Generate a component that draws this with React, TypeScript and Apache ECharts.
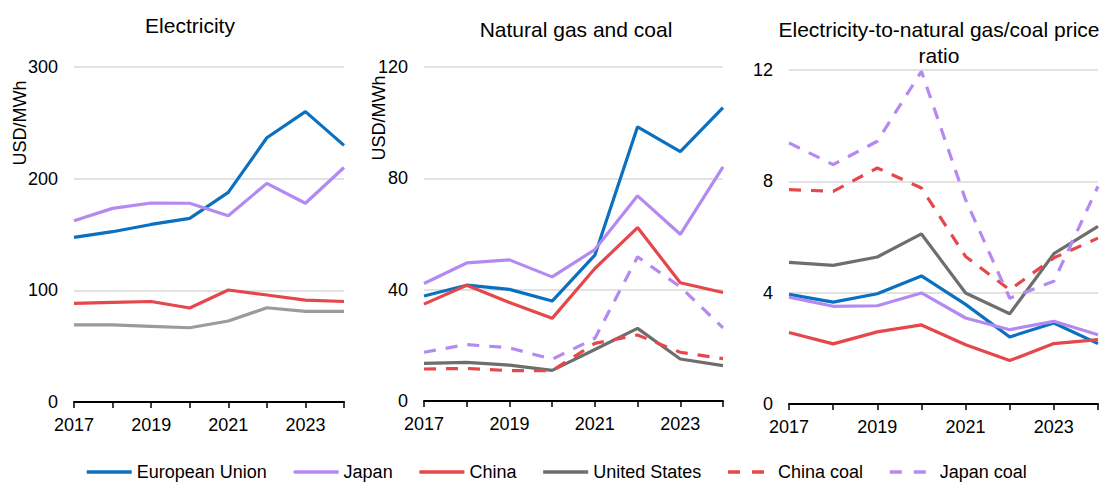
import React, { useEffect, useRef } from 'react';
import * as echarts from 'echarts';

const years = ['2017', '2018', '2019', '2020', '2021', '2022', '2023', '2024'];

const elecEU = [147.5, 152.5, 159, 164.5, 187.7, 236.6, 260, 229.8];
const elecJapan = [162.3, 173.4, 178.2, 178, 166.8, 195.8, 178, 210];
const elecChina = [88.4, 89.2, 90, 84.2, 100.3, 95.8, 91.3, 90];
const elecUS = [69, 69, 67.8, 66.5, 72.5, 84.4, 81.2, 81.2];

const fuelEU = [37.7, 41.6, 40.1, 35.9, 52.4, 98.5, 89.6, 105.4];
const fuelJapan = [42.2, 49.6, 50.7, 44.6, 54.4, 73.7, 59.9, 84.1];
const fuelChina = [34.8, 41.6, 35.4, 29.7, 47.6, 62.3, 42.5, 39];
const fuelUS = [13.5, 13.9, 12.9, 11, 18.5, 26.1, 15.1, 12.7];
const fuelChinaCoal = [11.5, 11.7, 10.9, 10.9, 20.7, 23.7, 17.5, 15.2];
const fuelJapanCoal = [17.5, 20.3, 19.1, 15, 22.5, 51.8, 41, 26.3];

const ratioEU = [3.94, 3.66, 3.96, 4.6, 3.58, 2.41, 2.91, 2.17];
const ratioJapan = [3.84, 3.51, 3.53, 3.99, 3.09, 2.67, 2.97, 2.49];
const ratioChina = [2.57, 2.16, 2.59, 2.84, 2.13, 1.56, 2.17, 2.31];
const ratioUS = [5.09, 4.98, 5.28, 6.11, 3.99, 3.24, 5.4, 6.38];
const ratioChinaCoal = [7.7, 7.64, 8.48, 7.76, 5.3, 4.1, 5.25, 5.96];
const ratioJapanCoal = [9.38, 8.6, 9.44, 11.95, 7.34, 3.8, 4.41, 7.82];

const panelTitles = ['Electricity', 'Natural gas and coal', 'Electricity-to-natural gas/coal price\nratio'];
const legendNames = ['European Union', 'Japan', 'China', 'United States', 'China coal', 'Japan coal'];
const yMax = [300, 120, 12];
const yInterval = [100, 40, 4];
const unitLabel = 'USD/MWh';

const FONT = '"Liberation Sans", Arial, sans-serif';
const C_EU = '#0a70bf';
const C_JP = '#b38af2';
const C_CN = '#e6474b';
const C_US = '#6e6e6e';
const C_US_LIGHT = '#9b9b9b';

export default function App() {
  const ref = useRef<HTMLDivElement>(null);
  useEffect(() => {
    const chart = echarts.init(ref.current!, null, { renderer: 'svg' });
    const grids = [
      { left: 74, top: 67, width: 270, height: 335 },
      { left: 424, top: 67, width: 299, height: 334 },
      { left: 789, top: 70, width: 309, height: 334 },
    ];
    const xAxes = grids.map((_, i) => ({
      type: 'category',
      gridIndex: i,
      data: years,
      boundaryGap: false,
      axisLine: { show: true, lineStyle: { color: '#000', width: 2 } },
      axisTick: { show: true, interval: 0, length: 6, lineStyle: { color: '#000', width: 1.5 } },
      axisLabel: { interval: 1, fontSize: 18, color: '#000', margin: 14, fontFamily: FONT },
      splitLine: { show: false },
    }));
    const yAxes = grids.map((_, i) => ({
      type: 'value',
      gridIndex: i,
      min: 0,
      max: yMax[i],
      interval: yInterval[i],
      axisLine: { show: false },
      axisTick: { show: false },
      axisLabel: { fontSize: 18, color: '#000', margin: 16, fontFamily: FONT },
      splitLine: { show: true, lineStyle: { color: '#d9d9d9', width: 1.5 } },
    }));
    const mk = (name: string, data: number[], color: string, idx: number, dashed = false) => ({
      name,
      type: 'line',
      xAxisIndex: idx,
      yAxisIndex: idx,
      data,
      symbol: 'none',
      showSymbol: false,
      lineStyle: { width: 3.2, color, type: dashed ? [12, 10] : 'solid' },
      itemStyle: { color },
      emphasis: { disabled: true },
    });
    const series = [
      mk('European Union', fuelEU, C_EU, 1),
      mk('Japan', fuelJapan, C_JP, 1),
      mk('China', fuelChina, C_CN, 1),
      mk('United States', fuelUS, C_US, 1),
      mk('China coal', fuelChinaCoal, C_CN, 1, true),
      mk('Japan coal', fuelJapanCoal, C_JP, 1, true),
      mk('European Union', elecEU, C_EU, 0),
      mk('Japan', elecJapan, C_JP, 0),
      mk('China', elecChina, C_CN, 0),
      mk('United States', elecUS, C_US_LIGHT, 0),
      mk('European Union', ratioEU, C_EU, 2),
      mk('Japan', ratioJapan, C_JP, 2),
      mk('China', ratioChina, C_CN, 2),
      mk('United States', ratioUS, C_US, 2),
      mk('China coal', ratioChinaCoal, C_CN, 2, true),
      mk('Japan coal', ratioJapanCoal, C_JP, 2, true),
    ];
    const titleCenters = [190, 576, 939];
    const titleTops = [12, 16, 16];
    chart.setOption({
      animation: false,
      backgroundColor: '#fff',
      textStyle: { fontFamily: FONT },
      title: panelTitles.map((t, i) => ({
        text: t,
        left: titleCenters[i],
        top: titleTops[i],
        textAlign: 'center',
        padding: 0,
        textStyle: { fontSize: 21, fontWeight: 'normal', color: '#000', fontFamily: FONT, lineHeight: 26 },
      })),
      grid: grids,
      xAxis: xAxes,
      yAxis: yAxes,
      legend: {
        data: legendNames.map((n) =>
          n.indexOf('coal') >= 0 ? { name: n, lineStyle: { type: [12, 12], width: 3.5 } } : { name: n }
        ),
        left: 85,
        top: 463,
        itemWidth: 45,
        itemHeight: 14,
        itemGap: 25,
        padding: 0,
        itemStyle: { opacity: 0, borderWidth: 0 },
        lineStyle: { width: 3.5 },
        textStyle: { fontSize: 18, color: '#000', fontFamily: FONT },
      },
      graphic: [
        {
          type: 'text',
          x: 20,
          y: 123,
          rotation: Math.PI / 2,
          style: { text: unitLabel, fontSize: 18, fill: '#000', fontFamily: FONT, textAlign: 'center', textVerticalAlign: 'middle' },
        },
        {
          type: 'text',
          x: 379,
          y: 118,
          rotation: Math.PI / 2,
          style: { text: unitLabel, fontSize: 18, fill: '#000', fontFamily: FONT, textAlign: 'center', textVerticalAlign: 'middle' },
        },
      ],
      series,
    });
    return () => chart.dispose();
  }, []);
  return (
    <div
      ref={ref}
      style={{ position: 'absolute', left: 0, top: 0, width: 1111, height: 482, background: '#fff' }}
    />
  );
}
